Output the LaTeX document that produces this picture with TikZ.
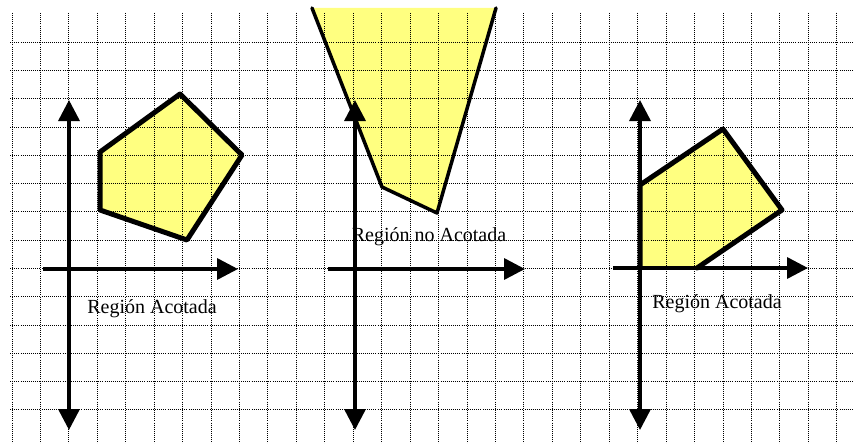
\documentclass[tikz,border=0pt]{standalone}
\usepackage{fontspec}
\setmainfont{Liberation Serif}
\usetikzlibrary{arrows.meta}
\definecolor{regionfill}{RGB}{255,255,128}
\tikzset{
  gridline/.style={black, line width=1pt, dash pattern=on 1pt off 1.1pt},
  axisline/.style={line width=3.5pt, -{Triangle[length=21pt,width=21pt]}},
  axisboth/.style={line width=3.5pt, {Triangle[length=21pt,width=21pt]}-{Triangle[length=21pt,width=21pt]}},
  bound/.style={line width=5pt, line join=round, line cap=round},
  thinbound/.style={line width=3.5pt, line join=round, line cap=round},
  lbl/.style={font=\fontsize{20}{22}\selectfont, anchor=base, inner sep=0pt}
}
\begin{document}
\begin{tikzpicture}[x=1pt,y=-1pt]
\useasboundingbox (0,0) rectangle (854,444);
% coordinates
\coordinate (a1) at (100,152); \coordinate (a2) at (180,94); \coordinate (a3) at (242,155);
\coordinate (a4) at (187,240); \coordinate (a5) at (100,210);
\coordinate (b1) at (312,8); \coordinate (b2) at (382,187); \coordinate (b3) at (437,213); \coordinate (b4) at (496,8);
\coordinate (c1) at (640,185); \coordinate (c2) at (723,129); \coordinate (c3) at (782,210);
\coordinate (c4) at (697,268); \coordinate (c5) at (640,268);
% fills
\fill[regionfill] (a1) -- (a2) -- (a3) -- (a4) -- (a5) -- cycle;
\fill[regionfill] (b1) -- (b2) -- (b3) -- (b4) -- cycle;
\fill[regionfill] (c1) -- (c2) -- (c3) -- (c4) -- (c5) -- cycle;
% grid
\foreach \i in {0,...,29} \draw[gridline] ({12+28.44*\i},13) -- ({12+28.44*\i},444);
\foreach \j in {0,...,13} \draw[gridline] (10,{42.3+28.28*\j}) -- (854,{42.3+28.28*\j});
% outlines
\draw[bound] (a1) -- (a2) -- (a3) -- (a4) -- (a5) -- cycle;
\draw[thinbound] (b1) -- (b2) -- (b3) -- (b4);
\draw[bound] (c5) -- (c1) -- (c2) -- (c3) -- (c4);
% axes
\coordinate (v1t) at (69,100); \coordinate (v1b) at (69,430);
\coordinate (h1l) at (43,269); \coordinate (h1r) at (238,269);
\coordinate (v2t) at (355,100); \coordinate (v2b) at (355,430);
\coordinate (h2l) at (328,269); \coordinate (h2r) at (525,269);
\coordinate (v3t) at (640,100); \coordinate (v3b) at (640,430);
\coordinate (h3l) at (613,268); \coordinate (h3r) at (808,268);
\draw[axisboth] (v1t) -- (v1b);
\draw[axisline] (h1l) -- (h1r);
\draw[axisboth] (v2t) -- (v2b);
\draw[axisline] (h2l) -- (h2r);
\draw[axisboth] (v3t) -- (v3b);
\draw[axisline] (h3l) -- (h3r);
% labels
\node[lbl] (l1) at (152,313) {Región Acotada};
\node[lbl] (l2) at (429,241) {Región no Acotada};
\node[lbl] (l3) at (717,308) {Región Acotada};
\end{tikzpicture}
\end{document}
